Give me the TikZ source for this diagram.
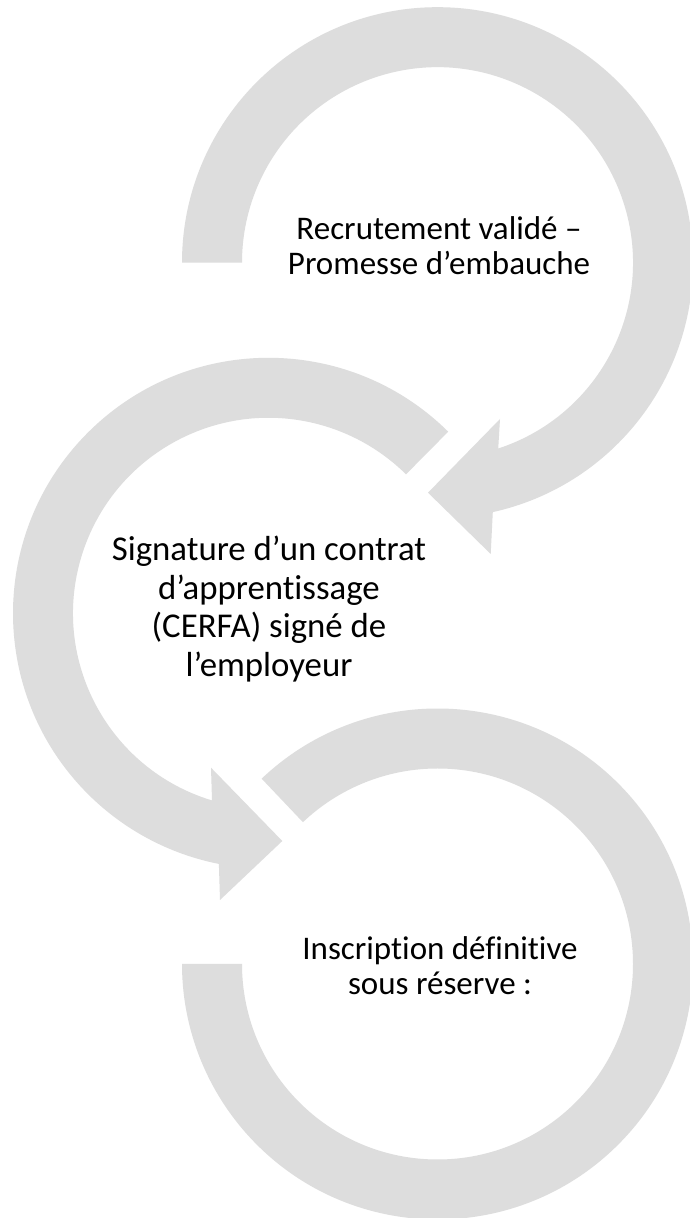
\documentclass[tikz,border=0pt]{standalone}
\usepackage{fontspec}
\setmainfont{Carlito}[Ligatures=NoCommon]
\usetikzlibrary{calc}
\definecolor{arcgray}{RGB}{221,221,221}
\tikzset{
  arcshape/.style={fill=arcgray, draw=none},
  txt/.style={font=\fontsize{33}{35}\selectfont, align=center, text=black, inner sep=0pt},
  txtbig/.style={txt, font=\fontsize{34.8}{38.5}\selectfont}
}
\begin{document}
\begin{tikzpicture}[x=1pt,y=1pt]
\path[use as bounding box, fill=white] (0,0) rectangle (690,1218);
\coordinate (C1) at (437.5,955.3);
\coordinate (C2) at (268.5,604.7);
\coordinate (C3) at (437.5,254);
% arrow 1
\fill[arcshape] ($(C1)+(180:255.5pt)$) arc[start angle=180, end angle=-77.5, radius=255.5pt]
  -- (490.7,664) -- (428,725.3) -- (500,799)
  -- ($(C1)+(-71.9:195.5pt)$) arc[start angle=-71.9, end angle=180, radius=195.5pt] -- cycle;
% arrow 2
\fill[arcshape] ($(C2)+(45.3:255.5pt)$) arc[start angle=45.3, end angle=258.8, radius=255.5pt]
  -- (220,318) -- (282.3,377) -- (211,450.3)
  -- ($(C2)+(253.2:195.5pt)$) arc[start angle=253.2, end angle=45.3, radius=195.5pt] -- cycle;
% arc 3
\fill[arcshape] ($(C3)+(133.5:255.5pt)$) arc[start angle=133.5, end angle=-180, radius=255.5pt]
  -- ($(C3)+(180:195.5pt)$) arc[start angle=-180, end angle=133.5, radius=195.5pt] -- cycle;
\node[txt] (t1) at (439,972) {Recrutement validé –\\Promesse d’embauche};
\node[txtbig] (t2) at (269,609) {Signature d’un contrat\\d’apprentissage\\(CERFA) signé de\\l’employeur};
\node[txt] (t3) at (440,252) {Inscription définitive\\sous réserve :};
\end{tikzpicture}
\end{document}
